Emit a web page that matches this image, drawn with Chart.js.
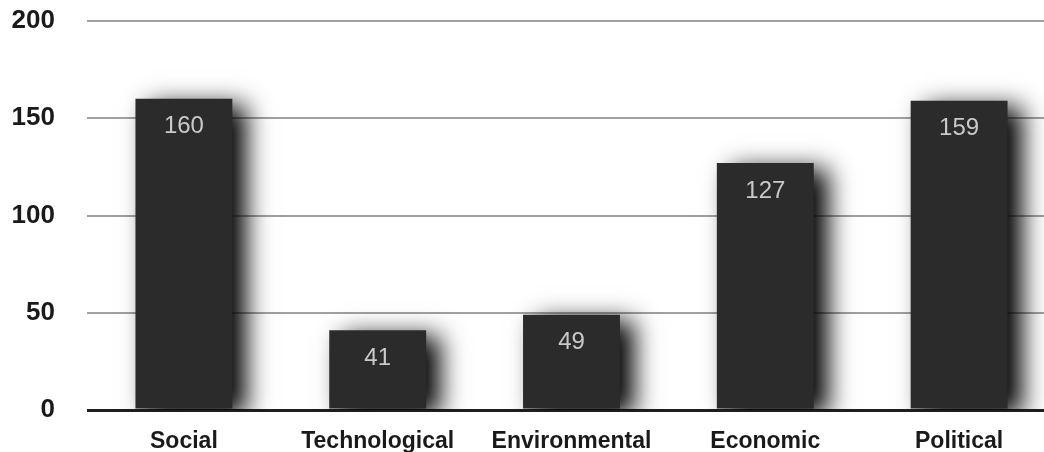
<!DOCTYPE html>
<html>
<head>
<meta charset="utf-8">
<script src="https://cdn.jsdelivr.net/npm/chart.js@4.4.1/dist/chart.umd.min.js"></script>
<style>
  html, body { margin: 0; padding: 0; background: #fff; overflow: hidden; }
  #wrap { position: relative; width: 1058px; height: 452px; }
</style>
</head>
<body>
<div id="wrap"><canvas id="chart"></canvas></div>
<script>
// Categories and counts
const categories = ['Social', 'Technological', 'Environmental', 'Economic', 'Political'];
const counts = [160, 41, 49, 127, 159];
const yTicks = [0, 50, 100, 150, 200];

// heavy drop shadow behind the bars
const barShadow = {
  id: 'barShadow',
  beforeDatasetsDraw(chart) {
    const ctx = chart.ctx;
    ctx.save();
    ctx.shadowColor = 'rgba(0,0,0,1)';
    ctx.shadowBlur = 24;
    ctx.shadowOffsetX = 14;
    ctx.shadowOffsetY = 6;
  },
  afterDatasetsDraw(chart) {
    chart.ctx.restore();
  }
};

// value written inside the top of each bar
const valueLabels = {
  id: 'valueLabels',
  afterDraw(chart) {
    const ctx = chart.ctx;
    const meta = chart.getDatasetMeta(0);
    ctx.save();
    ctx.fillStyle = '#c9c9c9';
    ctx.font = '24px "Liberation Sans", Arial, sans-serif';
    ctx.textAlign = 'center';
    ctx.textBaseline = 'top';
    meta.data.forEach((bar, i) => {
      ctx.fillText(String(counts[i]), bar.x, bar.y + 16);
    });
    ctx.restore();
  }
};

new Chart(document.getElementById('chart'), {
  type: 'bar',
  data: {
    labels: categories,
    datasets: [{
      data: counts,
      backgroundColor: '#2b2b2b',
      borderWidth: 0,
      categoryPercentage: 1,
      barPercentage: 0.5
    }]
  },
  options: {
    responsive: true,
    maintainAspectRatio: false,
    animation: false,
    layout: { padding: { top: 0, right: 2, left: 0, bottom: 0 } },
    plugins: { legend: { display: false }, tooltip: { enabled: false } },
    scales: {
      x: {
        grid: { display: false },
        border: { display: false },
        afterFit: (scale) => { scale.height = 42; },
        ticks: {
          color: '#1a1a1a',
          padding: 10,
          font: { family: '"Liberation Sans", Arial, sans-serif', size: 23, weight: 'bold' }
        }
      },
      y: {
        min: 0,
        max: 200,
        afterBuildTicks: (scale) => { scale.ticks = yTicks.map(v => ({ value: v })); },
        afterFit: (scale) => {
          scale.width = 87;
          // tick padding would otherwise push the plot down
          scale.paddingTop = 21;
          scale.paddingBottom = 0;
        },
        border: { display: false },
        grid: {
          drawTicks: false,
          color: (c) => c.tick && c.tick.value === 0 ? '#1e1e1e' : '#a0a0a0',
          lineWidth: (c) => c.tick && c.tick.value === 0 ? 3 : 2
        },
        ticks: {
          color: '#1a1a1a',
          padding: 32,
          font: { family: '"Liberation Sans", Arial, sans-serif', size: 26, weight: 'bold' }
        }
      }
    }
  },
  plugins: [barShadow, valueLabels]
});
</script>
</body>
</html>
